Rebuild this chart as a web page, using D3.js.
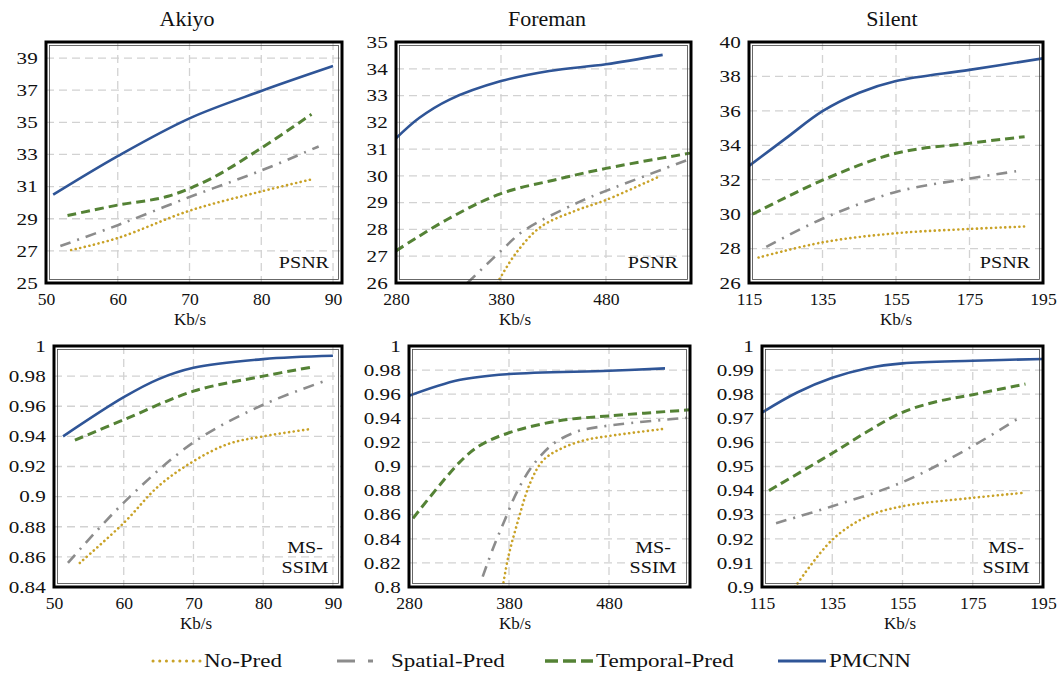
<!DOCTYPE html>
<html>
<head>
<meta charset="utf-8">
<script src="https://cdn.jsdelivr.net/npm/d3@7"></script>
<style>
  body { margin: 0; background: #fff; }
  svg { font-family: "Liberation Serif", "Times New Roman", serif; }
</style>
</head>
<body>
<svg id="chart" width="1057" height="673"></svg>
<script>
//
// Data
//

var seriesNames = ['No-Pred', 'Spatial-Pred', 'Temporal-Pred', 'PMCNN']
var videoTitles = ['Akiyo', 'Foreman', 'Silent']

// Akiyo PSNR
var akiyoPsnrNoPred = [[53.5, 27.05], [60, 27.8], [70, 29.5], [80, 30.7], [87, 31.45]]
var akiyoPsnrSpatial = [[52, 27.3], [60, 28.6], [70, 30.35], [80, 32.0], [88, 33.5]]
var akiyoPsnrTemporal = [[53, 29.2], [60, 29.85], [67, 30.4], [73, 31.5], [80, 33.4], [87, 35.5]]
var akiyoPsnrPmcnn = [[51, 30.5], [60, 32.9], [70, 35.25], [80, 36.95], [90, 38.5]]

// Foreman PSNR
var foremanPsnrNoPred = [[376.5, 26.0], [394, 27.1], [418, 28.1], [451, 28.7], [480, 29.1], [532, 30.0]]
var foremanPsnrSpatial = [[348, 26.0], [380, 27.2], [402, 27.96], [453, 29.0], [480, 29.44], [558, 30.6]]
var foremanPsnrTemporal = [[280, 27.2], [330, 28.4], [380, 29.34], [430, 29.84], [480, 30.28], [560, 30.85]]
var foremanPsnrPmcnn = [[280, 31.4], [302, 32.16], [331, 32.85], [380, 33.54], [426, 33.92], [480, 34.17], [534, 34.52]]

// Silent PSNR
var silentPsnrNoPred = [[117.6, 27.48], [135, 28.36], [155, 28.89], [175, 29.14], [190, 29.28]]
var silentPsnrSpatial = [[119.7, 28.1], [135, 29.73], [155, 31.29], [175, 32.07], [188, 32.5]]
var silentPsnrTemporal = [[116, 30.0], [135, 31.97], [155, 33.54], [175, 34.12], [190, 34.5]]
var silentPsnrPmcnn = [[115, 32.8], [125, 34.4], [135, 35.98], [145, 37.05], [155, 37.73], [175, 38.38], [195, 39.05]]

// Akiyo MS-SSIM
var akiyoSsimNoPred = [[53.7, 0.856], [60, 0.8825], [65, 0.907], [70, 0.9235], [75, 0.935], [80, 0.940], [87, 0.945]]
var akiyoSsimSpatial = [[52, 0.856], [60, 0.896], [70, 0.936], [80, 0.961], [89, 0.977]]
var akiyoSsimTemporal = [[53, 0.9375], [60, 0.951], [70, 0.970], [80, 0.980], [87, 0.986]]
var akiyoSsimPmcnn = [[51.3, 0.940], [60, 0.966], [65, 0.978], [70, 0.9855], [80, 0.9913], [90, 0.9935]]

// Foreman MS-SSIM
var foremanSsimNoPred = [[373.7, 0.80], [379.3, 0.825], [388, 0.852], [401, 0.886], [414, 0.905], [430, 0.914], [454, 0.9215], [480, 0.9253], [533, 0.931]]
var foremanSsimSpatial = [[353.7, 0.8086], [364, 0.832], [376, 0.856], [388, 0.879], [403, 0.900], [423, 0.918], [448, 0.929], [480, 0.934], [561, 0.9406]]
var foremanSsimTemporal = [[284, 0.857], [330, 0.903], [350, 0.917], [380, 0.928], [430, 0.938], [480, 0.942], [561, 0.947]]
var foremanSsimPmcnn = [[280, 0.9586], [330, 0.9717], [380, 0.9767], [480, 0.9794], [536, 0.9814]]

// Silent MS-SSIM
var silentSsimNoPred = [[124.4, 0.900], [135, 0.9196], [145, 0.9293], [155, 0.9335], [175, 0.937], [189, 0.939]]
var silentSsimSpatial = [[119, 0.9265], [135, 0.9335], [155, 0.9435], [175, 0.9585], [188, 0.970]]
var silentSsimTemporal = [[117, 0.940], [135, 0.9555], [145, 0.9645], [155, 0.9725], [165, 0.977], [175, 0.9798], [190, 0.9842]]
var silentSsimPmcnn = [[115, 0.9724], [125, 0.9807], [135, 0.9868], [145, 0.9908], [155, 0.9928], [175, 0.9939], [195, 0.9946]]

// tick labels
var akiyoXTicks = [50, 60, 70, 80, 90]
var foremanXTicks = [280, 380, 480]
var silentXTicks = [115, 135, 155, 175, 195]
var akiyoPsnrYTicks = [25, 27, 29, 31, 33, 35, 37, 39]
var foremanPsnrYTicks = [26, 27, 28, 29, 30, 31, 32, 33, 34, 35]
var silentPsnrYTicks = [26, 28, 30, 32, 34, 36, 38, 40]
var akiyoSsimYTicks = [0.84, 0.86, 0.88, 0.9, 0.92, 0.94, 0.96, 0.98, 1]
var foremanSsimYTicks = [0.8, 0.82, 0.84, 0.86, 0.88, 0.9, 0.92, 0.94, 0.96, 0.98, 1]
var silentSsimYTicks = [0.9, 0.91, 0.92, 0.93, 0.94, 0.95, 0.96, 0.97, 0.98, 0.99, 1]

//
// Styles
//

var styles = [
  { color: '#C9A227', width: 2.6, dash: '0.1,4.6', cap: 'round', legendDash: '0.1,6.6' },
  { color: '#8C8C8C', width: 2.6, dash: '11,7,2,7', cap: 'butt', legendDash: '18,13,5,13' },
  { color: '#548235', width: 3, dash: '9,5', cap: 'butt', legendDash: '13,5' },
  { color: '#2F5597', width: 2.6, dash: null, cap: 'butt', legendDash: null }
]

// the chart text in the figure is stretched sideways
var stretchY = 1.28
var stretchX = 1.1

var panels = [
  { title: videoTitles[0], metric: ['PSNR'], box: [46, 42, 342, 283], xd: [50, 91.25], yd: [25, 40],
    xt: akiyoXTicks, yt: akiyoPsnrYTicks, kbx: 190,
    series: [akiyoPsnrNoPred, akiyoPsnrSpatial, akiyoPsnrTemporal, akiyoPsnrPmcnn] },
  { title: videoTitles[1], metric: ['PSNR'], box: [396, 42, 691, 283], xd: [280, 561], yd: [26, 35],
    xt: foremanXTicks, yt: foremanPsnrYTicks, kbx: 515,
    series: [foremanPsnrNoPred, foremanPsnrSpatial, foremanPsnrTemporal, foremanPsnrPmcnn] },
  { title: videoTitles[2], metric: ['PSNR'], box: [749, 42, 1043, 283], xd: [115, 195], yd: [26, 40],
    xt: silentXTicks, yt: silentPsnrYTicks, kbx: 896,
    series: [silentPsnrNoPred, silentPsnrSpatial, silentPsnrTemporal, silentPsnrPmcnn] },
  { title: null, metric: ['MS-', 'SSIM'], box: [54, 346, 342, 587], xd: [50, 91.3], yd: [0.84, 1],
    xt: akiyoXTicks, yt: akiyoSsimYTicks, kbx: 196,
    series: [akiyoSsimNoPred, akiyoSsimSpatial, akiyoSsimTemporal, akiyoSsimPmcnn] },
  { title: null, metric: ['MS-', 'SSIM'], box: [409, 346, 690, 587], xd: [280, 561], yd: [0.8, 1],
    xt: foremanXTicks, yt: foremanSsimYTicks, kbx: 515,
    series: [foremanSsimNoPred, foremanSsimSpatial, foremanSsimTemporal, foremanSsimPmcnn] },
  { title: null, metric: ['MS-', 'SSIM'], box: [762, 346, 1043, 587], xd: [115, 195], yd: [0.9, 1],
    xt: silentXTicks, yt: silentSsimYTicks, kbx: 900,
    series: [silentSsimNoPred, silentSsimSpatial, silentSsimTemporal, silentSsimPmcnn] }
]

var titleX = [187, 547, 892]

//
// Drawing
//

var svg = d3.select('#chart')

function fmt(v) {
  return String(+v.toFixed(2))
}

// text drawn at (x, y) and stretched sideways around its anchor
function stretchedText(parent, x, y, sx) {
  return parent.append('g').attr('transform', 'translate(' + x + ',' + y + ') scale(' + sx + ',1)')
    .append('text').attr('fill', '#111')
}

function drawPanel(p, i) {
  var x0 = p.box[0], y0 = p.box[1], x1 = p.box[2], y1 = p.box[3]
  var x = d3.scaleLinear().domain(p.xd).range([x0, x1])
  var y = d3.scaleLinear().domain(p.yd).range([y1, y0])
  var g = svg.append('g')

  var clipId = 'clip' + i
  g.append('clipPath').attr('id', clipId)
    .append('rect').attr('x', x0).attr('y', y0).attr('width', x1 - x0).attr('height', y1 - y0)

  // grid
  var grid = g.append('g').attr('stroke', '#D2D2D2').attr('stroke-width', 1.3)
    .attr('stroke-dasharray', '8,5')
  grid.selectAll('.hg').data(p.yt.filter(function(v) { return y(v) > y0 + 3 && y(v) < y1 - 3 }))
    .enter().append('line')
    .attr('x1', x0).attr('x2', x1)
    .attr('y1', function(d) { return y(d) }).attr('y2', function(d) { return y(d) })
  grid.selectAll('.vg').data(p.xt.filter(function(v) { return x(v) > x0 + 3 && x(v) < x1 - 3 }))
    .enter().append('line')
    .attr('y1', y0).attr('y2', y1)
    .attr('x1', function(d) { return x(d) }).attr('x2', function(d) { return x(d) })

  // series
  var line = d3.line()
    .x(function(d) { return x(d[0]) })
    .y(function(d) { return y(d[1]) })
    .curve(d3.curveCatmullRom.alpha(0.5))
  var lines = g.append('g').attr('clip-path', 'url(#' + clipId + ')')
  p.series.forEach(function(s, k) {
    var st = styles[k]
    lines.append('path')
      .attr('d', line(s))
      .attr('fill', 'none')
      .attr('stroke', st.color)
      .attr('stroke-width', st.width)
      .attr('stroke-linecap', st.cap)
      .attr('stroke-dasharray', st.dash)
  })

  // frame (double border)
  g.append('rect').attr('x', x0).attr('y', y0).attr('width', x1 - x0).attr('height', y1 - y0)
    .attr('fill', 'none').attr('stroke', '#000').attr('stroke-width', 3)
  g.append('rect').attr('x', x0 + 3.5).attr('y', y0 + 3.5).attr('width', x1 - x0 - 7).attr('height', y1 - y0 - 7)
    .attr('fill', 'none').attr('stroke', '#444').attr('stroke-width', 0.8)

  // axes labels
  var yAxis = d3.axisLeft(y).tickValues(p.yt).tickSize(0).tickPadding(6.5).tickFormat(fmt)
  var ya = g.append('g').attr('transform', 'translate(' + x0 + ',0)').call(yAxis)
    .attr('font-family', null).attr('font-size', 16.5)
  ya.select('.domain').remove()
  ya.selectAll('text').attr('fill', '#111').attr('transform', 'scale(' + stretchY + ',1)')

  var xAxis = d3.axisBottom(x).tickValues(p.xt).tickSize(0).tickPadding(11).tickFormat(fmt)
  var xa = g.append('g').attr('transform', 'translate(0,' + y1 + ')').call(xAxis)
    .attr('font-family', null).attr('font-size', 16)
  xa.select('.domain').remove()
  xa.selectAll('text').attr('fill', '#111').attr('transform', 'scale(' + stretchX + ',1)')

  g.append('text').attr('x', p.kbx).attr('y', y1 + 42)
    .attr('text-anchor', 'middle').attr('font-size', 17).attr('fill', '#111').text('Kb/s')

  if (p.title) {
    g.append('text').attr('x', titleX[i]).attr('y', 26)
      .attr('text-anchor', 'middle').attr('font-size', 22).attr('fill', '#111').text(p.title)
  }

  if (p.metric.length === 1) {
    stretchedText(g, x1 - 13, y1 - 15, 1.18)
      .attr('text-anchor', 'end').attr('font-size', 17).text(p.metric[0])
  } else {
    p.metric.forEach(function(m, j) {
      stretchedText(g, x1 - 37, y1 - 34 + j * 20, 1.18)
        .attr('text-anchor', 'middle').attr('font-size', 17).text(m)
    })
  }
}

panels.forEach(drawPanel)

// legend
var legendX = [153, 337, 545, 778]
var legend = svg.append('g')
seriesNames.forEach(function(name, k) {
  var st = styles[k]
  var lx = legendX[k]
  legend.append('line')
    .attr('x1', lx).attr('x2', lx + 48).attr('y1', 661).attr('y2', 661)
    .attr('stroke', st.color).attr('stroke-width', st.width + 0.4)
    .attr('stroke-linecap', st.cap)
    .attr('stroke-dasharray', st.legendDash)
  stretchedText(legend, lx + (k === 1 ? 54 : 51), 667, 1.28)
    .attr('font-size', 18).text(name)
})
</script>
</body>
</html>
